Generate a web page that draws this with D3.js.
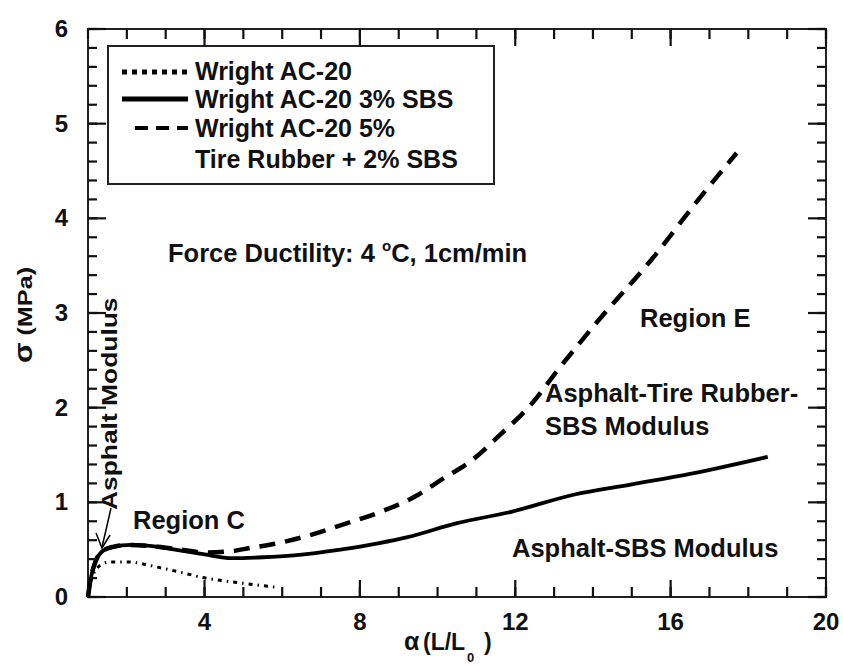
<!DOCTYPE html>
<html>
<head>
<meta charset="utf-8">
<script src="https://cdn.jsdelivr.net/npm/d3@7"></script>
<style>
  body { margin: 0; background: #fff; }
  text { font-family: "Liberation Sans", Arial, sans-serif; font-weight: bold; fill: #111; }
</style>
</head>
<body>
<script>
// curve readings: alpha = L/L0, sigma in MPa
const ac20Alpha = [1, 1.05, 1.15, 1.3, 1.57, 2.0, 2.85, 3.4, 3.9, 4.5, 5.1, 5.9];
const ac20Sigma = [0, 0.12, 0.25, 0.33, 0.37, 0.37, 0.31, 0.26, 0.21, 0.17, 0.14, 0.10];

const sbs3Alpha = [1, 1.05, 1.18, 1.39, 1.65, 2.1, 2.8, 3.4, 4.0, 4.7, 5.5, 6.3, 7.5, 8.5, 9.2, 10.5, 11.9, 13.5, 15.0, 16.5, 18.5];
const sbs3Sigma = [0, 0.15, 0.36, 0.49, 0.53, 0.55, 0.53, 0.49, 0.45, 0.41, 0.42, 0.44, 0.50, 0.57, 0.63, 0.78, 0.90, 1.08, 1.19, 1.30, 1.48];

const tireAlpha = [1, 1.05, 1.18, 1.39, 1.65, 2.1, 2.8, 3.4, 4.0, 4.6, 5.2, 5.9, 6.6, 7.6, 8.6, 9.5, 10.1, 10.9, 11.6, 12.4, 13.1, 14.2, 15.5, 16.7, 17.7];
const tireSigma = [0, 0.15, 0.36, 0.49, 0.53, 0.55, 0.53, 0.50, 0.47, 0.48, 0.52, 0.57, 0.64, 0.77, 0.91, 1.08, 1.24, 1.45, 1.71, 2.03, 2.40, 2.95, 3.56, 4.19, 4.69];

const xMajor = [4, 8, 12, 16, 20];
const yMajor = [0, 1, 2, 3, 4, 5, 6];

const legendLabels = ["Wright AC-20", "Wright AC-20 3% SBS", "Wright AC-20 5%", "Tire Rubber + 2% SBS"];

const W = 843, H = 666;
const mLeft = 88, mRight = 826, mTop = 29, mBottom = 597;

const svg = d3.select("body").append("svg").attr("width", W).attr("height", H);

const x = d3.scaleLinear().domain([1, 20]).range([mLeft, mRight]);
const y = d3.scaleLinear().domain([0, 6]).range([mBottom, mTop]);

const xMinor = d3.range(1, 21, 1);
const yMinor = d3.range(0, 31).map(i => i * 0.2);

// frame
svg.append("rect").attr("x", mLeft).attr("y", mTop)
  .attr("width", mRight - mLeft).attr("height", mBottom - mTop)
  .attr("fill", "none").attr("stroke", "#222").attr("stroke-width", 2);

svg.append("g").selectAll("text").data(xMajor).join("text")
  .attr("x", d => x(d)).attr("y", 630).attr("text-anchor", "middle")
  .attr("font-size", 24).text(d => d);
svg.append("g").selectAll("text").data(yMajor).join("text")
  .attr("x", 68).attr("y", d => y(d) + 8).attr("text-anchor", "end")
  .attr("font-size", 24).text(d => d);

// curves
const line = d3.line().x(d => x(d[0])).y(d => y(d[1])).curve(d3.curveMonotoneX);

const series = [
  { a: ac20Alpha, s: ac20Sigma, w: 3, dash: "4,5,1.5,5" },
  { a: tireAlpha, s: tireSigma, w: 4.5, dash: "16,10" },
  { a: sbs3Alpha, s: sbs3Sigma, w: 3.8, dash: null }
];

series.forEach(sr => {
  svg.append("path")
    .datum(sr.a.map((v, i) => [v, sr.s[i]]))
    .attr("d", line)
    .attr("fill", "none")
    .attr("stroke", "#000")
    .attr("stroke-width", sr.w)
    .attr("stroke-dasharray", sr.dash);
});

// legend
svg.append("rect").attr("x", 108).attr("y", 46).attr("width", 386).attr("height", 138)
  .attr("fill", "#fff").attr("stroke", "#222").attr("stroke-width", 2);

const legRows = [
  { y: 72, x1: 122, dash: "5,5", w: 5 },
  { y: 99, x1: 122, dash: null, w: 5 },
  { y: 128, x1: 135, dash: "13,8", w: 4 }
];
legRows.forEach(r => {
  svg.append("line").attr("x1", r.x1).attr("x2", 188).attr("y1", r.y).attr("y2", r.y)
    .attr("stroke", "#000").attr("stroke-width", r.w).attr("stroke-dasharray", r.dash);
});
const legBase = [80, 108, 137, 168];
legendLabels.forEach((t, i) => {
  svg.append("text").attr("x", 195).attr("y", legBase[i]).attr("font-size", 25).text(t);
});

// annotations
const notes = [
  ["Region C", 133, 529],
  ["Region E", 640, 327],
  ["Asphalt-Tire Rubber-", 545, 402],
  ["SBS Modulus", 545, 435],
  ["Asphalt-SBS Modulus", 512, 557]
];
notes.forEach(([t, nx, ny]) => {
  svg.append("text").attr("x", nx).attr("y", ny).attr("font-size", 25.5).text(t);
});

svg.append("text").attr("x", 168).attr("y", 262).attr("font-size", 25.5)
  .html('Force Ductility: 4 <tspan font-size="15" dy="-11">o</tspan><tspan dy="11">C, 1cm/min</tspan>');

svg.append("text").attr("transform", "translate(117,510) rotate(-90) scale(1.2,1)")
  .attr("font-size", 22).text("Asphalt Modulus");

// arrow to the initial slope
svg.append("path").attr("d", "M111,508 L106,530 L102,547").attr("stroke", "#000").attr("stroke-width", 1.5).attr("fill", "none");
svg.append("path").attr("d", "M96,533 L102,548 L110,535").attr("stroke", "#000").attr("stroke-width", 1.5).attr("fill", "none");

// axis titles
svg.append("text").attr("transform", "translate(32,315) rotate(-90) scale(1.2,1)").attr("text-anchor", "middle")
  .attr("font-size", 21).html('<tspan font-size="25">σ</tspan> (MPa)');

const xt = svg.append("text").attr("y", 650).attr("font-size", 23);
xt.append("tspan").attr("x", 404).attr("font-size", 25).text("α");
xt.append("tspan").attr("x", 423).text("(L/L");
xt.append("tspan").attr("x", 467).attr("y", 662).attr("font-size", 13).text("0");
xt.append("tspan").attr("x", 484).attr("y", 650).text(")");

// inward ticks on all four sides, drawn last
const tickSets = [
  { vals: xMinor, len: 10, horiz: false },
  { vals: xMajor, len: 17, horiz: false },
  { vals: yMinor, len: 9, horiz: true },
  { vals: yMajor, len: 18, horiz: true }
];
tickSets.forEach(ts => {
  const segs = [];
  ts.vals.forEach(v => {
    if (ts.horiz) {
      segs.push([mLeft, y(v), mLeft + ts.len, y(v)]);
      segs.push([mRight, y(v), mRight - ts.len, y(v)]);
    } else {
      segs.push([x(v), mBottom, x(v), mBottom - ts.len]);
      segs.push([x(v), mTop, x(v), mTop + ts.len]);
    }
  });
  segs.forEach(s => {
    svg.append("line")
      .attr("x1", s[0]).attr("y1", s[1]).attr("x2", s[2]).attr("y2", s[3])
      .attr("stroke", "#111").attr("stroke-width", 2.2);
  });
});
</script>
</body>
</html>
